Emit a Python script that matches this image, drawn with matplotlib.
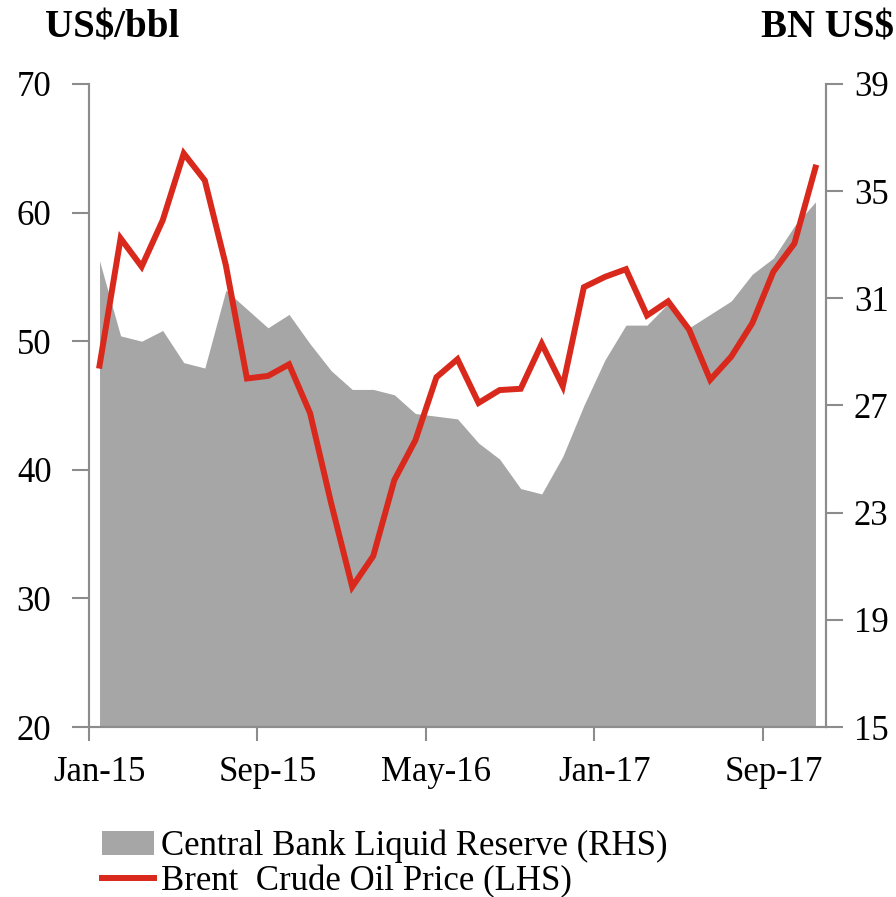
# Brent crude price against central bank liquid reserves, monthly, Jan-15 to Nov-17
import matplotlib
matplotlib.use("Agg")
import matplotlib.pyplot as plt
from matplotlib.patches import Patch
from matplotlib.lines import Line2D
import numpy as np
import pandas as pd

months = list(pd.date_range("2015-01-01", periods=35, freq="MS").strftime("%b-%y"))

# Brent crude oil price, US$/bbl (left axis)
brent = [48.1, 58.0, 55.8, 59.4, 64.6, 62.5, 55.9, 47.1, 47.3, 48.2,
         44.4, 37.4, 30.9, 33.3, 39.2, 42.3, 47.2, 48.6, 45.2, 46.2,
         46.3, 49.8, 46.5, 54.2, 55.0, 55.6, 52.0, 53.1, 50.9, 47.0,
         48.8, 51.4, 55.4, 57.6, 63.5]

# Central bank liquid reserve, BN US$ (right axis)
reserve = [32.4, 29.6, 29.4, 29.8, 28.6, 28.4, 31.3, 30.6, 29.9, 30.4,
           29.3, 28.3, 27.6, 27.6, 27.4, 26.7, 26.6, 26.5, 25.6, 25.0,
           23.9, 23.7, 25.1, 27.0, 28.7, 30.0, 30.0, 30.8, 29.9, 30.4,
           30.9, 31.9, 32.5, 33.7, 34.6]

label_every = 8
font = "Liberation Serif"
grey = "#a6a6a6"
red = "#d9291c"
axis_col = "#8c8c8c"
fs = 25

plt.rcParams["font.family"] = font

fig = plt.figure(figsize=(8.96, 8.97), dpi=100)
ax = fig.add_axes([89 / 896, 1 - 727 / 897, (826 - 89) / 896, (727 - 84) / 897])
ax2 = ax.twinx()

x = np.arange(len(months))

# reserves as a filled area on the right-hand scale
ax2.fill_between(x, 15, reserve, color=grey, linewidth=0)
ax2.set_ylim(15, 39)
ax2.set_yticks(np.arange(15, 40, 4))

# oil price on top, left-hand scale
ax.plot(x, brent, color=red, linewidth=4.3, solid_joinstyle="miter")
ax.set_ylim(20, 70)
ax.set_yticks(np.arange(20, 71, 10))
ax.set_zorder(ax2.get_zorder() + 1)
ax.patch.set_visible(False)

ax.set_xlim(-0.5, len(months) - 0.5)
# tick marks sit between categories, labels on the categories
ax.set_xticks(np.arange(0, len(months), label_every) - 0.5)
ax.set_xticklabels([])
ax.set_xticks(np.arange(0, len(months), label_every), minor=True)
ax.set_xticklabels(months[::label_every], minor=True)
ax.tick_params(axis="x", which="major", length=10, width=1.5, color=axis_col)
ax.tick_params(axis="x", which="minor", length=0, pad=21, labelsize=fs)

ax.tick_params(axis="y", length=12, width=1.5, color=axis_col, pad=15, labelsize=fs)
ax2.tick_params(axis="y", length=12, width=1.5, color=axis_col, pad=8, labelsize=fs)

for a in (ax, ax2):
    a.spines["top"].set_visible(False)
    for s in ("left", "right", "bottom"):
        a.spines[s].set_color(axis_col)
        a.spines[s].set_linewidth(1.5)

fig.text(45 / 896, 1 - 28 / 897, "US$/bbl", fontsize=28, fontweight="bold",
         ha="left", va="center")
fig.text(894 / 896, 1 - 28 / 897, "BN US$", fontsize=28, fontweight="bold",
         ha="right", va="center")

handles = [Patch(facecolor=grey, edgecolor="none"),
           Line2D([0], [0], color=red, linewidth=4.3)]
labels = ["Central Bank Liquid Reserve (RHS)", "Brent  Crude Oil Price (LHS)"]
fig.legend(handles, labels, loc="upper left", bbox_to_anchor=(88 / 896, 1 - 816 / 897),
           frameon=False, fontsize=fs, handlelength=1.5, handletextpad=0.2,
           labelspacing=0.04, borderaxespad=0)

fig.savefig("out.png", dpi=100)
